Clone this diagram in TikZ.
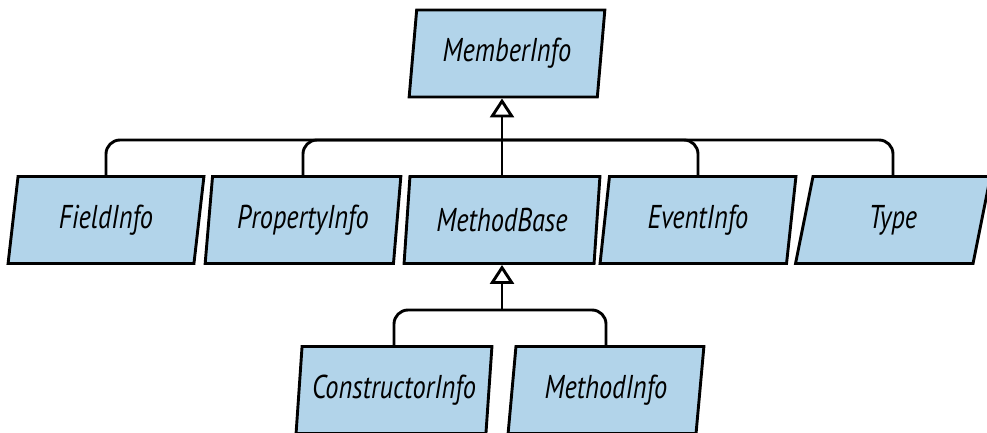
\documentclass[tikz,border=0pt]{standalone}
\usepackage{fontspec}
\setmainfont{PT Sans}
\newfontfamily\clsfont[FakeStretch=0.8,ItalicFeatures={FakeStretch=0.8}]{PT Sans}
\usetikzlibrary{shapes.geometric,arrows.meta}
\definecolor{boxblue}{RGB}{178,212,234}
\begin{document}
\begin{tikzpicture}[x=1pt,y=-1pt,
  cls/.style={trapezium, trapezium left angle=80, trapezium right angle=100,
    trapezium stretches=true, minimum width=196pt, minimum height=87pt,
    inner sep=0pt, draw=black, fill=boxblue, line width=2.9pt,
    font=\clsfont\fontsize{33}{36}\selectfont\itshape},
  conn/.style={line width=2.9pt, rounded corners=14pt},
  inh/.style={line width=2.9pt, -{Triangle[open, width=24pt, length=19pt, line width=2.9pt]}}]
\useasboundingbox (0,0) rectangle (987,433);
\node[cls] (MemberInfo) at (507,53.5) {MemberInfo};
\node[cls] (FieldInfo) at (106,220) {FieldInfo};
\node[cls] (PropertyInfo) at (303,220) {PropertyInfo};
\node[cls] (MethodBase) at (502,220) {MethodBase};
\node[cls] (EventInfo) at (698,220) {EventInfo};
\node[cls] (Type) at (893,220) {Type};
\node[cls] (ConstructorInfo) at (394,390) {ConstructorInfo};
\node[cls] (MethodInfo) at (606,390) {MethodInfo};
\coordinate (top1) at (MethodBase.center |- MethodBase.north);
\coordinate (bus1) at (MethodBase.center |- 0,140);
\coordinate (bus2) at (MethodBase.center |- 0,310);
\draw[conn] (FieldInfo.center |- FieldInfo.north) |- (bus1) -| (Type.center |- Type.north);
\draw[conn] (PropertyInfo.center |- PropertyInfo.north) |- (bus1);
\draw[conn] (EventInfo.center |- EventInfo.north) |- (bus1);
\draw[inh] (top1) -- (top1 |- MemberInfo.south);
\draw[conn] (ConstructorInfo.center |- ConstructorInfo.north) |- (bus2) -| (MethodInfo.center |- MethodInfo.north);
\draw[inh] (bus2) -- (MethodBase.center |- MethodBase.south);
\end{tikzpicture}
\end{document}
